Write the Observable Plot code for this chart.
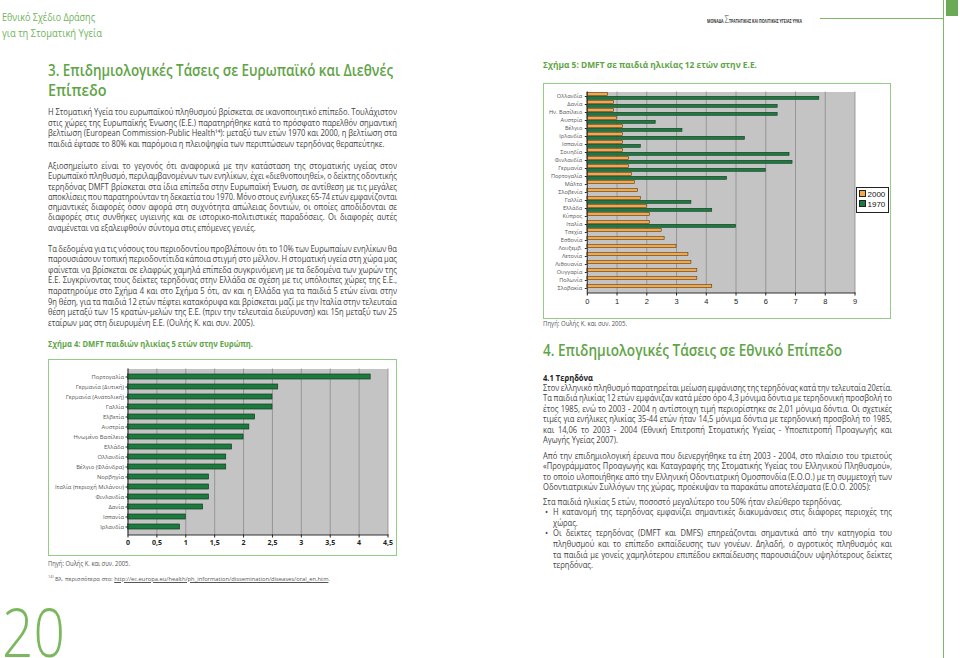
<!DOCTYPE html>
<html><head><meta charset="utf-8">
<script src="https://cdn.jsdelivr.net/npm/d3@7"></script>
<script src="https://cdn.jsdelivr.net/npm/@observablehq/plot@0.6"></script>
<style>
html,body{margin:0;padding:0;background:#fff;}
body{width:960px;height:658px;position:relative;overflow:hidden;font-family:"Open Sans","Noto Sans",sans-serif;}
.ln{position:absolute;white-space:nowrap;transform-origin:0 50%;color:#444;}
.box{position:absolute;border:1.5px solid #93cc84;box-sizing:border-box;background:#fff;}
.box svg{position:absolute;left:0;top:0;}
.legend{position:absolute;border:0.8px solid #222;background:#fff;font-family:Arial,"Liberation Sans",sans-serif;font-size:8px;color:#111;box-sizing:border-box;padding:2px 0 0 2px;line-height:10.5px;}
.legend span.sw{display:inline-block;width:5px;height:5px;border:0.7px solid #222;margin-right:2px;vertical-align:0px;}
.deco{position:absolute;}
</style></head><body>
<script>
// ---------------- DATA ----------------
const fig4Countries = ["Πορτογαλία","Γερμανία (Δυτική)","Γερμανία (Ανατολική)","Γαλλία","Ελβετία","Αυστρία","Ηνωμένο Βασίλειο","Ελλάδα","Ολλανδία","Βέλγιο (Φλάνδρα)","Νορβηγία","Ιταλία (περιοχή Μιλάνου)","Φινλανδία","Δανία","Ισπανία","Ιρλανδία"];
const fig4Values = [4.2, 2.6, 2.5, 2.5, 2.2, 2.1, 2.0, 1.8, 1.7, 1.7, 1.4, 1.4, 1.4, 1.3, 1.0, 0.9];
const fig4Ticks = [0, 0.5, 1, 1.5, 2, 2.5, 3, 3.5, 4, 4.5];

const fig5Countries = ["Ολλανδία","Δανία","Ην. Βασίλειο","Αυστρία","Βέλγιο","Ιρλανδία","Ισπανία","Σουηδία","Φινλανδία","Γερμανία","Πορτογαλία","Μάλτα","Σλοβενία","Γαλλία","Ελλάδα","Κύπρος","Ιταλία","Τσεχία","Εσθονία","Λουξεμβ.","Λετονία","Λιθουανία","Ουγγαρία","Πολωνία","Σλοβακία"];
const fig5Values2000 = [0.7, 0.9, 0.9, 1.0, 1.2, 1.2, 1.2, 1.2, 1.4, 1.4, 1.5, 1.6, 1.7, 1.8, 2.0, 2.1, 2.1, 2.5, 2.6, 3.0, 3.4, 3.5, 3.7, 3.7, 4.2];
const fig5Values1970 = [7.8, 6.4, 6.4, 2.3, 3.2, 5.3, 1.8, 6.8, 6.9, 6.0, 4.7, null, null, 3.5, 4.2, null, 5.0, null, null, null, null, null, null, null, null];
const fig5Series = ["2000", "1970"];
const fig5Ticks = [0, 1, 2, 3, 4, 5, 6, 7, 8, 9];

// ---------------- TEXT ----------------
const leftP1 = [
"Η Στοματική Υγεία του ευρωπαϊκού πληθυσμού βρίσκεται σε ικανοποιητικό επίπεδο. Τουλάχιστον",
"στις χώρες της Ευρωπαϊκής Ένωσης (Ε.Ε.) παρατηρήθηκε κατά το πρόσφατο παρελθόν σημαντική",
"βελτίωση (European Commission-Public Health¹⁴): μεταξύ των ετών 1970 και 2000, η βελτίωση στα",
"παιδιά έφτασε το 80% και παρόμοια η πλειοψηφία των περιπτώσεων τερηδόνας θεραπεύτηκε."];
const leftP2 = [
"Αξιοσημείωτο είναι το γεγονός ότι αναφορικά με την κατάσταση της στοματικής υγείας στον",
"Ευρωπαϊκό πληθυσμό, περιλαμβανομένων των ενηλίκων, έχει «διεθνοποιηθεί», ο δείκτης οδοντικής",
"τερηδόνας DMFT βρίσκεται στα ίδια επίπεδα στην Ευρωπαϊκή Ένωση, σε αντίθεση με τις μεγάλες",
"αποκλίσεις που παρατηρούνταν τη δεκαετία του 1970. Μόνο στους ενήλικες 65-74 ετών εμφανίζονται",
"σημαντικές διαφορές όσον αφορά στη συχνότητα απώλειας δοντιών, οι οποίες αποδίδονται σε",
"διαφορές στις συνθήκες υγιεινής και σε ιστορικο-πολιτιστικές παραδόσεις. Οι διαφορές αυτές",
"αναμένεται να εξαλειφθούν σύντομα στις επόμενες γενιές."];
const leftP3 = [
"Τα δεδομένα για τις νόσους του περιοδοντίου προβλέπουν ότι το 10% των Ευρωπαίων ενηλίκων θα",
"παρουσιάσουν τοπική περιοδοντίτιδα κάποια στιγμή στο μέλλον. Η στοματική υγεία στη χώρα μας",
"φαίνεται να βρίσκεται σε ελαφρώς χαμηλά επίπεδα συγκρινόμενη με τα δεδομένα των χωρών της",
"Ε.Ε. Συγκρίνοντας τους δείκτες τερηδόνας στην Ελλάδα σε σχέση με τις υπόλοιπες χώρες της Ε.Ε.,",
"παρατηρούμε στο Σχήμα 4 και στο Σχήμα 5 ότι, αν και η Ελλάδα για τα παιδιά 5 ετών είναι στην",
"9η θέση, για τα παιδιά 12 ετών πέφτει κατακόρυφα και βρίσκεται μαζί με την Ιταλία στην τελευταία",
"θέση μεταξύ των 15 κρατών-μελών της Ε.Ε. (πριν την τελευταία διεύρυνση) και 15η μεταξύ των 25",
"εταίρων μας στη διευρυμένη Ε.Ε. (Ουλής Κ. και συν. 2005)."];
const rightP1 = [
"Στον ελληνικό πληθυσμό παρατηρείται μείωση εμφάνισης της τερηδόνας κατά την τελευταία 20ετία.",
"Τα παιδιά ηλικίας 12 ετών εμφάνιζαν κατά μέσο όρο 4,3 μόνιμα δόντια με τερηδονική προσβολή το",
"έτος 1985, ενώ το 2003 - 2004 η αντίστοιχη τιμή περιορίστηκε σε 2,01 μόνιμα δόντια. Οι σχετικές",
"τιμές για ενήλικες ηλικίας 35-44 ετών ήταν 14,5 μόνιμα δόντια με τερηδονική προσβολή το 1985,",
"και 14,06 το 2003 - 2004 (Εθνική Επιτροπή Στοματικής Υγείας - Υποεπιτροπή Προαγωγής και",
"Αγωγής Υγείας 2007)."];
const rightP2 = [
"Από την επιδημιολογική έρευνα που διενεργήθηκε τα έτη 2003 - 2004, στο πλαίσιο του τριετούς",
"«Προγράμματος Προαγωγής και Καταγραφής της Στοματικής Υγείας του Ελληνικού Πληθυσμού»,",
"το οποίο υλοποιήθηκε από την Ελληνική Οδοντιατρική Ομοσπονδία (Ε.Ο.Ο.) με τη συμμετοχή των",
"Οδοντιατρικών Συλλόγων της χώρας, προέκυψαν τα παρακάτω αποτελέσματα (Ε.Ο.Ο. 2005):"];
const rightP3 = ["Στα παιδιά ηλικίας 5 ετών, ποσοστό μεγαλύτερο του 50% ήταν ελεύθερο τερηδόνας."];
const bullet1 = [
"Η κατανομή της τερηδόνας εμφανίζει σημαντικές διακυμάνσεις στις διάφορες περιοχές της",
"χώρας."];
const bullet2 = [
"Οι δείκτες τερηδόνας (DMFT και DMFS) επηρεάζονται σημαντικά από την κατηγορία του",
"πληθυσμού και το επίπεδο εκπαίδευσης των γονέων. Δηλαδή, ο αγροτικός πληθυσμός και",
"τα παιδιά με γονείς χαμηλότερου επιπέδου εκπαίδευσης παρουσιάζουν υψηλότερους δείκτες",
"τερηδόνας."];

// ---------------- LAYOUT HELPERS ----------------
const BODY = 8.2;
const registry = [];
function mk(text, x, yc, size, style = {}) {
  const el = document.createElement("div");
  el.className = "ln";
  el.style.fontSize = size + "px";
  el.style.lineHeight = (size * 1.15) + "px";
  el.style.left = x + "px";
  el.style.top = (yc - size * 0.7) + "px";
  Object.assign(el.style, style);
  el.textContent = text;
  document.body.appendChild(el);
  return el;
}
function para(lines, x, y0, step, w, style = {}) {
  lines.forEach((t, i) => {
    const el = mk(t, x, y0 + i * step, BODY, style);
    registry.push({ el, t, w, justify: i < lines.length - 1 });
  });
}
function fit(text, x, yc, w, size, style = {}) {
  const el = mk(text, x, yc, size, style);
  const nat = el.getBoundingClientRect().width;
  el.style.transform = `scaleX(${w / nat})`;
  return el;
}
function finishBody() {
  registry.forEach(r => r.nat = r.el.getBoundingClientRect().width);
  const ratios = registry.filter(r => r.justify).map(r => r.w / r.nat).sort((a, b) => a - b);
  const S = Math.min(1, ratios[Math.floor(ratios.length * 0.35)]);
  const MINWS = -0.5;
  registry.forEach(r => {
    let s = S;
    const n = (r.t.match(/ /g) || []).length;
    if (r.justify && n) {
      let ws = (r.w / S - r.nat) / n;
      if (ws < MINWS) { ws = MINWS; s = r.w / (r.nat + n * MINWS); }
      r.el.style.wordSpacing = ws + "px";
    }
    r.el.style.transform = `scaleX(${s})`;
  });
}

// ---------------- PAGE DECORATION ----------------
const green = "#5fa447";
fit("Εθνικό Σχέδιο Δράσης", 2, 19, 93, 11, { color: "#6fb35a" });
fit("για τη Στοματική Υγεία", 2, 35, 100, 11, { color: "#6fb35a" });
{
  const h = document.createElement("div");
  h.className = "ln";
  h.style.left = "707px"; h.style.top = "12px"; h.style.fontSize = "4.6px"; h.style.fontWeight = "700"; h.style.color = "#333";
  h.innerHTML = 'ΜΟΝΑΔΑ <span style="font-size:10px;color:#6f8f66;font-weight:400">Σ</span>ΤΡΑΤΗΓΙΚΗΣ ΚΑΙ ΠΟΛΙΤΙΚΗΣ ΥΓΕΙΑΣ ΥΥΚΑ';
  document.body.appendChild(h);
  const nat = h.getBoundingClientRect().width;
  h.style.transform = `scaleX(${95 / nat})`;
}
[["820px","17.5px","123px","1.3px"],["942.5px","0px","1.3px","658px"]].forEach(([l,t,w,hh]) => {
  const d = document.createElement("div"); d.className = "deco";
  Object.assign(d.style, { left: l, top: t, width: w, height: hh, background: "#7db868" });
  document.body.appendChild(d);
});
{
  const d = document.createElement("div"); d.className = "deco";
  Object.assign(d.style, { left: "946px", top: "0px", width: "12px", height: "16px", background: "#6aaa55" });
  document.body.appendChild(d);
}

// Headings
fit("3. Επιδημιολογικές Τάσεις σε Ευρωπαϊκό και Διεθνές", 48, 72.5, 345, 15.5, { color: green, fontWeight: "600" });
{
  const e = mk("Επίπεδο", 48, 93, 15.5, { color: green, fontWeight: "600" });
  e.style.transform = "scaleX(0.93)";
}
fit("4. Επιδημιολογικές Τάσεις σε Εθνικό Επίπεδο", 543, 352.5, 299, 15.5, { color: green, fontWeight: "600" });
fit("Σχήμα 4: DMFT παιδιών ηλικίας 5 ετών στην Ευρώπη.", 48, 345, 205, BODY, { color: green, fontWeight: "700" });
fit("Σχήμα 5: DMFT σε παιδιά ηλικίας 12 ετών στην Ε.Ε.", 543, 66, 214, BODY, { color: green, fontWeight: "700" });
fit("4.1 Τερηδόνα", 543, 378.3, 50, BODY, { color: "#222", fontWeight: "700" });

// Body text
para(leftP1, 48, 113, 10.55, 349);
para(leftP2, 48, 166.7, 10.3, 349);
para(leftP3, 48, 249.5, 10.55, 349);
para(rightP1, 543, 388.5, 10.45, 349);
para(rightP2, 543, 456.7, 10.5, 349);
para(rightP3, 543, 502.3, 10.6, 349);
para(bullet1, 553, 512.9, 10.6, 339);
para(bullet2, 553, 534.1, 10.6, 339);
finishBody();
mk("•", 545, 512.9, BODY, { color: "#444" });
mk("•", 545, 534.1, BODY, { color: "#444" });

// Sources / footnote
fit("Πηγή: Ουλής Κ. και συν. 2005.", 48, 565, 82, 6.5, { color: "#555" });
fit("Πηγή: Ουλής Κ. και συν. 2005.", 543, 325, 84, 6.5, { color: "#555" });
{
  const f = document.createElement("div");
  f.className = "ln";
  f.style.left = "48px"; f.style.top = (580 - 6 * 0.7) + "px"; f.style.fontSize = "6px"; f.style.lineHeight = "7px"; f.style.color = "#555";
  f.innerHTML = '<sup style="font-size:4px;line-height:0">14)</sup> Βλ. περισσότερα στο: <span style="text-decoration:underline">http://ec.europa.eu/health/ph_information/dissemination/diseases/oral_en.htm</span>.';
  document.body.appendChild(f);
  const nat = f.getBoundingClientRect().width;
  f.style.transform = `scaleX(${282 / nat})`;
}
{
  const p = document.createElement("div");
  p.className = "ln";
  Object.assign(p.style, { left: "2px", top: (657 - 0.788 * 66) + "px", fontSize: "66px", lineHeight: (66 * 0.8) + "px", color: "#7ab75e", fontWeight: "300" });
  p.textContent = "20";
  document.body.appendChild(p);
  const nat = p.getBoundingClientRect().width;
  p.style.transform = `scaleX(${63 / nat})`;
}

// ---------------- CHART 4 ----------------
const fig4Data = fig4Countries.map((c, i) => ({ country: c, value: fig4Values[i] }));
const comma = d => String(d).replace(".", ",");
const box1 = document.createElement("div");
box1.className = "box";
Object.assign(box1.style, { left: "48px", top: "359px", width: "349px", height: "197px" });
document.body.appendChild(box1);
box1.appendChild(Plot.plot({
  width: 346, height: 194,
  marginLeft: 78.5, marginRight: 7.5, marginTop: 8.5, marginBottom: 19.5,
  style: { fontFamily: '"Open Sans","Noto Sans",sans-serif', background: "transparent", overflow: "visible", color: "#222" },
  x: { domain: [0, 4.5], label: null },
  y: { domain: fig4Countries, paddingInner: 0.5, paddingOuter: 0.25, label: null },
  marks: [
    Plot.frame({ fill: "#c4c4c4", stroke: null }),
    Plot.gridX(fig4Ticks, { stroke: "#8c8c8c", strokeOpacity: 1, strokeWidth: 0.8 }),
    Plot.barX(fig4Data, { x: "value", y: "country", fill: "#1b7a3d", stroke: "#163a22", strokeWidth: 0.7 }),
    Plot.ruleX([0], { stroke: "#333", strokeWidth: 1 }),
    Plot.frame({ anchor: "bottom", stroke: "#333", strokeWidth: 1 }),
    Plot.axisX({ ticks: fig4Ticks, tickFormat: comma, tickSize: 3, tickPadding: 2, fontSize: 7, fontWeight: "bold", label: null }),
    Plot.axisY({ tickSize: 2, tickPadding: 2, fontSize: 5.8, fill: "#555", label: null })
  ]
}));

// ---------------- CHART 5 ----------------
const fig5Data2000 = fig5Countries.map((c, i) => ({ country: c, value: fig5Values2000[i], series: fig5Series[0] }));
const fig5Data1970 = fig5Countries.map((c, i) => ({ country: c, value: fig5Values1970[i], series: fig5Series[1] })).filter(d => d.value != null);
const box2 = document.createElement("div");
box2.className = "box";
Object.assign(box2.style, { left: "543px", top: "83px", width: "348px", height: "236px" });
document.body.appendChild(box2);
const col2000 = "#f4a84a", col1970 = "#1b7a3d";
box2.appendChild(Plot.plot({
  width: 345, height: 233,
  marginLeft: 42.8, marginRight: 34.5, marginTop: 7.5, marginBottom: 24.5,
  style: { fontFamily: 'Arial,"Liberation Sans",sans-serif', background: "transparent", overflow: "visible", color: "#222" },
  x: { domain: [0, 9], label: null },
  y: { domain: fig5Countries, padding: 0, label: null },
  marks: [
    Plot.frame({ fill: "#c4c4c4", stroke: null }),
    Plot.gridX(fig5Ticks, { stroke: "#8c8c8c", strokeOpacity: 1, strokeWidth: 0.8 }),
    Plot.barX(fig5Data2000, { x: "value", y: "country", fill: col2000, stroke: "#5a3a10", strokeWidth: 0.6, insetTop: 0.6, insetBottom: 4.4 }),
    Plot.barX(fig5Data1970, { x: "value", y: "country", fill: col1970, stroke: "#163a22", strokeWidth: 0.6, insetTop: 4.3, insetBottom: 0.7 }),
    Plot.ruleX([0], { stroke: "#333", strokeWidth: 1 }),
    Plot.frame({ anchor: "bottom", stroke: "#333", strokeWidth: 1 }),
    Plot.axisX({ ticks: fig5Ticks, tickSize: 3, tickPadding: 3, fontSize: 7.5, label: null }),
    Plot.axisY({ tickSize: 2, tickPadding: 3, fontSize: 5.6, fill: "#555", fontFamily: '"Open Sans","Noto Sans",sans-serif', label: null })
  ]
}));
const leg = document.createElement("div");
leg.className = "legend";
Object.assign(leg.style, { left: "311.5px", top: "102.5px", width: "33px", height: "26px" });
leg.innerHTML = fig5Series.map((s, i) => `<div><span class="sw" style="background:${i === 0 ? col2000 : col1970}"></span>${s}</div>`).join("");
box2.appendChild(leg);
</script>
</body></html>
